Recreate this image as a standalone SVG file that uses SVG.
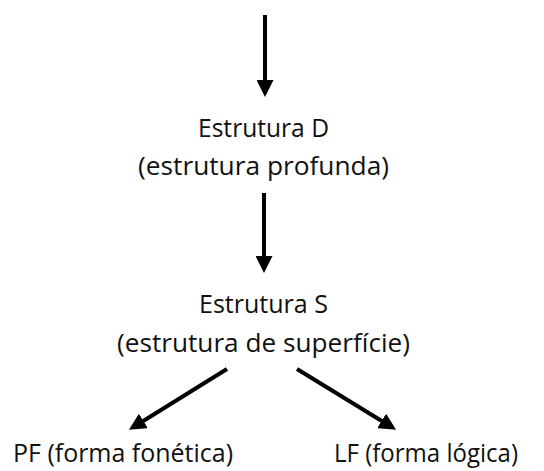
<svg xmlns="http://www.w3.org/2000/svg" width="544" height="471" viewBox="0 0 544 471">
  <style>
    .lbl { font-family: "Open Sans", "Liberation Sans", sans-serif; font-size: 26px; fill: #111; }
    .sm { font-size: 25px; }
    .conn { stroke: #000; stroke-width: 4; fill: none; marker-end: url(#head); }
  </style>
  <defs>
    <marker id="head" markerUnits="userSpaceOnUse" markerWidth="17" markerHeight="17" refX="4" refY="8.5" orient="auto" viewBox="0 0 17 17">
      <path d="M0,0 L17,8.5 L0,17 z" fill="#000"/>
    </marker>
  </defs>
  <rect width="544" height="471" fill="#fff"/>
  <g id="connectors">
    <line class="conn" x1="265" y1="15" x2="265" y2="84"/>
    <line class="conn" x1="264" y1="193" x2="264" y2="260"/>
    <line class="conn" x1="227" y1="369" x2="140" y2="423"/>
    <line class="conn" x1="297" y1="369" x2="385" y2="423"/>
  </g>
  <g id="estrutura-d">
    <text class="lbl" x="198" y="137" textLength="131" lengthAdjust="spacingAndGlyphs">Estrutura D</text>
    <text class="lbl" x="138" y="175" textLength="251" lengthAdjust="spacingAndGlyphs">(estrutura profunda)</text>
  </g>
  <g id="estrutura-s">
    <text class="lbl" x="199" y="313" textLength="129" lengthAdjust="spacingAndGlyphs">Estrutura S</text>
    <text class="lbl" x="117" y="352" textLength="293" lengthAdjust="spacingAndGlyphs">(estrutura de superfície)</text>
  </g>
  <g id="pf">
    <text class="lbl sm" x="13" y="462" textLength="220" lengthAdjust="spacingAndGlyphs">PF (forma fonética)</text>
  </g>
  <g id="lf">
    <text class="lbl sm" x="334" y="462" textLength="184" lengthAdjust="spacingAndGlyphs">LF (forma lógica)</text>
  </g>
</svg>
